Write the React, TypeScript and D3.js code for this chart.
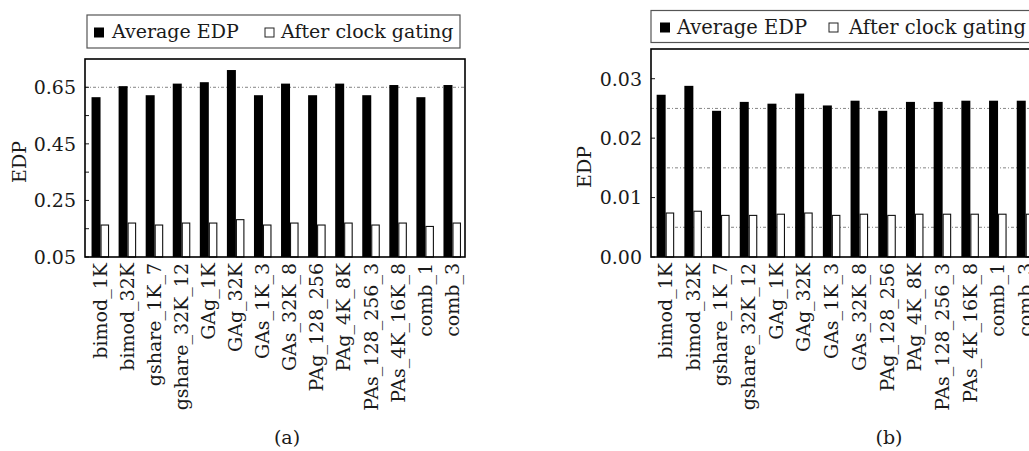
import React, { useEffect, useRef } from 'react';
import * as d3 from 'd3';

const categories = ['bimod_1K', 'bimod_32K', 'gshare_1K_7', 'gshare_32K_12', 'GAg_1K', 'GAg_32K', 'GAs_1K_3',
  'GAs_32K_8', 'PAg_128_256', 'PAg_4K_8K', 'PAs_128_256_3', 'PAs_4K_16K_8', 'comb_1', 'comb_3'];

// panel (a)
const avgEdpA = [0.615, 0.654, 0.622, 0.663, 0.668, 0.711, 0.622, 0.663, 0.622, 0.663, 0.622, 0.658, 0.615, 0.658];
const gatedEdpA = [0.163, 0.170, 0.163, 0.170, 0.170, 0.182, 0.163, 0.170, 0.163, 0.170, 0.163, 0.170, 0.158, 0.170];
const ticksA = [0.05, 0.25, 0.45, 0.65];
const minorTicksA = [0.15, 0.35, 0.55];
const gridA = [0.65];

// panel (b)
const avgEdpB = [0.0273, 0.0288, 0.0246, 0.0261, 0.0258, 0.0275, 0.0255, 0.0263, 0.0246, 0.0261, 0.0261, 0.0263, 0.0263, 0.0263];
const gatedEdpB = [0.0074, 0.0077, 0.0070, 0.0070, 0.0072, 0.0074, 0.0070, 0.0072, 0.0070, 0.0072, 0.0072, 0.0072, 0.0072, 0.0072];
const ticksB = [0.00, 0.01, 0.02, 0.03];
const minorTicksB = [];
const gridB = [0.005, 0.015, 0.025];

const legendLabels = ['Average EDP', 'After clock gating'];
const captions = ['(a)', '(b)'];

const FONT = "'DejaVu Serif', serif";
const INK = '#1a1a1a';

const panels = [
  {
    avg: avgEdpA, gated: gatedEdpA, ticks: ticksA, minor: minorTicksA, grid: gridA,
    domain: [0.05, 0.75], frame: { left: 85, top: 59, right: 465, bottom: 257 },
    band: [87, 466], barW: 9, legendSize: 19,
    legend: { x: 87, y: 15, w: 373, h: 33, sq1: 94, txt1: 112, sq2: 265, txt2: 281 },
    yTitle: { x: 19, y: 162 }, caption: captions[0], capX: 287,
  },
  {
    avg: avgEdpB, gated: gatedEdpB, ticks: ticksB, minor: minorTicksB, grid: gridB,
    domain: [0, 0.035], frame: { left: 651, top: 49, right: 1045, bottom: 257 },
    band: [651.8, 1039.6], barW: 9, legendSize: 19.5,
    legend: { x: 651, y: 10.5, w: 400, h: 32, sq1: 660, txt1: 677, sq2: 829, txt2: 849 },
    yTitle: { x: 584, y: 167 }, caption: captions[1], capX: 889,
  },
];

const App = () => {
  const ref = useRef(null);

  useEffect(() => {
    const svg = d3.select(ref.current);
    svg.selectAll('*').remove();

    panels.forEach(p => {
      const { left, top, right, bottom } = p.frame;
      const g = svg.append('g');

      const y = d3.scaleLinear().domain(p.domain).range([bottom, top]);
      const x = d3.scaleBand().domain(categories).range(p.band).padding(0);
      const cx = d => x(d) + x.bandwidth() / 2;

      // dotted grid
      g.selectAll('.grid')
        .data(p.grid)
        .enter().append('line')
        .attr('x1', left).attr('x2', right)
        .attr('y1', d => y(d)).attr('y2', d => y(d))
        .attr('stroke', '#666')
        .attr('stroke-width', 0.8)
        .attr('stroke-dasharray', '3,2,1,2');

      // inner ticks on the left frame
      g.selectAll('.tick')
        .data([...p.ticks, ...p.minor])
        .enter().append('line')
        .attr('x1', left).attr('x2', left + 4)
        .attr('y1', d => y(d)).attr('y2', d => y(d))
        .attr('stroke', INK);

      // bars
      g.selectAll('.avg')
        .data(categories)
        .enter().append('rect')
        .attr('x', d => cx(d) - p.barW)
        .attr('y', (d, i) => y(p.avg[i]))
        .attr('width', p.barW)
        .attr('height', (d, i) => bottom - y(p.avg[i]))
        .attr('fill', '#000');

      g.selectAll('.gated')
        .data(categories)
        .enter().append('rect')
        .attr('x', d => cx(d) + 0.5)
        .attr('y', (d, i) => y(p.gated[i]))
        .attr('width', p.barW - 1.5)
        .attr('height', (d, i) => bottom - y(p.gated[i]))
        .attr('fill', '#fff')
        .attr('stroke', '#111')
        .attr('stroke-width', 1.1);

      // frame
      g.append('rect')
        .attr('x', left).attr('y', top)
        .attr('width', right - left).attr('height', bottom - top)
        .attr('fill', 'none')
        .attr('stroke', '#000')
        .attr('stroke-width', 1.6);

      // y tick labels
      g.selectAll('.ylab')
        .data(p.ticks)
        .enter().append('text')
        .attr('x', left - 9)
        .attr('y', d => y(d))
        .attr('dy', '0.36em')
        .attr('text-anchor', 'end')
        .attr('font-family', FONT)
        .attr('font-size', 19)
        .attr('fill', INK)
        .text(d3.format('.2f'));

      // category labels, rotated
      g.selectAll('.xlab')
        .data(categories)
        .enter().append('text')
        .attr('transform', d => `translate(${cx(d)},${bottom + 6}) rotate(-90)`)
        .attr('dy', '0.33em')
        .attr('text-anchor', 'end')
        .attr('font-family', FONT)
        .attr('font-size', 19)
        .attr('fill', INK)
        .text(d => d);

      // y title
      g.append('text')
        .attr('transform', `translate(${p.yTitle.x},${p.yTitle.y}) rotate(-90)`)
        .attr('dy', '0.35em')
        .attr('text-anchor', 'middle')
        .attr('font-family', FONT)
        .attr('font-size', 19)
        .attr('fill', INK)
        .text('EDP');

      // legend
      const L = p.legend;
      const midY = L.y + L.h / 2;
      g.append('rect')
        .attr('x', L.x).attr('y', L.y)
        .attr('width', L.w).attr('height', L.h)
        .attr('fill', '#fff')
        .attr('stroke', '#555')
        .attr('stroke-width', 1.2);
      g.append('rect')
        .attr('x', L.sq1).attr('y', midY - 4)
        .attr('width', 10).attr('height', 10)
        .attr('fill', '#000');
      g.append('rect')
        .attr('x', L.sq2).attr('y', midY - 3.5)
        .attr('width', 9).attr('height', 9)
        .attr('fill', '#fff')
        .attr('stroke', '#222');
      [L.txt1, L.txt2].forEach((tx, i) => {
        g.append('text')
          .attr('x', tx)
          .attr('y', midY)
          .attr('dy', '0.36em')
          .attr('font-family', FONT)
          .attr('font-size', p.legendSize)
          .attr('fill', INK)
          .text(legendLabels[i]);
      });

      // caption
      g.append('text')
        .attr('x', p.capX)
        .attr('y', 437)
        .attr('dy', '0.35em')
        .attr('text-anchor', 'middle')
        .attr('font-family', FONT)
        .attr('font-size', 19)
        .attr('fill', INK)
        .text(p.caption);
    });
  }, []);

  return (
    <svg ref={ref} width={1029} height={451}
      style={{ position: 'absolute', left: 0, top: 0, background: '#fff' }} />
  );
};

export default App;
